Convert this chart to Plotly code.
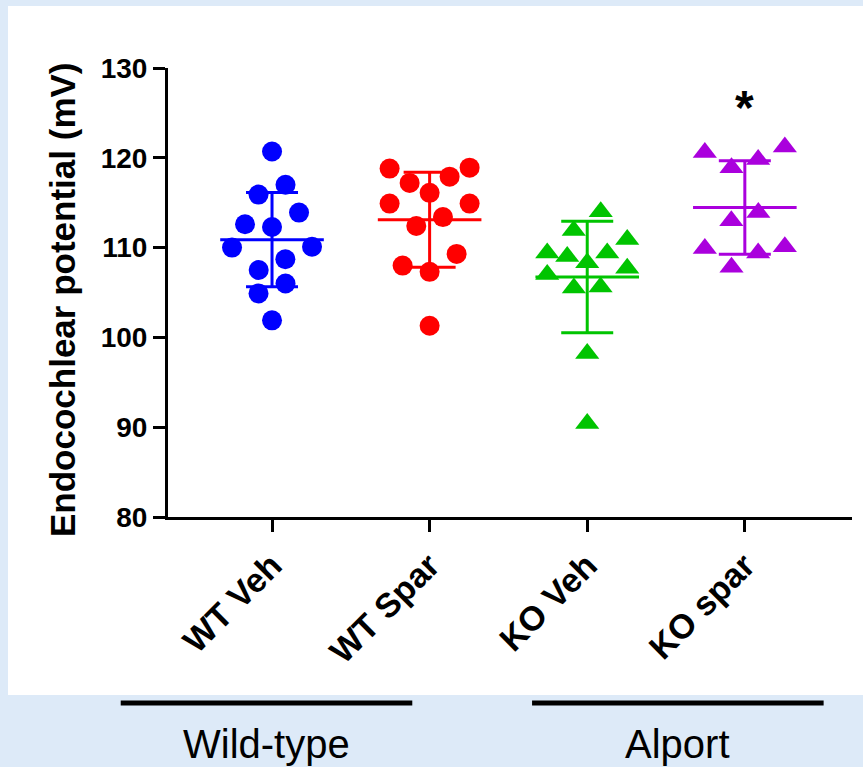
import numpy as np
import plotly.graph_objects as go

# ---------------- data ----------------
categories = ["WT Veh", "WT Spar", "KO Veh", "KO spar"]
wt_veh = [120.7, 117.0, 115.9, 113.9, 112.6, 112.3, 110.1, 110.0, 108.7, 107.5, 106.0, 104.9, 101.9]
wt_spar = [118.9, 118.8, 117.9, 117.2, 116.1, 114.9, 114.9, 113.4, 112.4, 109.3, 108.0, 107.3, 101.3]
ko_veh = [114.0, 111.9, 110.9, 109.4, 109.4, 109.0, 108.3, 107.7, 107.0, 105.6, 105.5, 98.2, 90.4]
ko_spar = [121.2, 120.6, 119.8, 118.9, 113.9, 113.0, 110.1, 109.9, 109.4, 107.8]
groups = [wt_veh, wt_spar, ko_veh, ko_spar]
y_ticks = [80, 90, 100, 110, 120, 130]
group_labels = ["Wild-type", "Alport"]
significance = ["", "", "", "*"]

# ---------------- style ----------------
colors = ["#0000ff", "#ff0000", "#00c400", "#aa00dd"]
symbols = ["circle", "circle", "triangle-up", "triangle-up"]
W, H = 863, 767
ML, MR, MT, MB = 168, 11, 68, 250
x_range = [-0.66, 3.68]
y_range = [80, 130]
plot_w = W - ML - MR
plot_h = H - MT - MB
px_per_x = plot_w / (x_range[1] - x_range[0])
px_per_y = plot_h / (y_range[1] - y_range[0])


def row_scatter(values, row_height=2.85, max_step_px=27.0, max_width_px=80.0):
    """GraphPad-like scatter: bin points into rows, spread each row symmetrically,
    lowest value in the centre, higher values toward the edges."""
    order = sorted(range(len(values)), key=lambda k: -values[k])
    rows, cur = [], []
    for k in order:
        if cur and values[cur[0]] - values[k] > row_height:
            rows.append(cur)
            cur = []
        cur.append(k)
    rows.append(cur)
    offsets = [0.0] * len(values)
    for row in rows:
        n = len(row)
        step = max_step_px if n < 2 else min(max_step_px, max_width_px / (n - 1))
        slots = [(j - (n - 1) / 2) * step for j in range(n)]
        slots.sort(key=lambda s: (abs(round(s, 3)), s))
        for k, s in zip(sorted(row, key=lambda k: values[k]), slots):
            offsets[k] = s / px_per_x
    return offsets


def xpaper(xd):
    return (xd - x_range[0]) / (x_range[1] - x_range[0])


def ypaper(py):
    return (H - MB - py) / plot_h


font_fam = "Arial, 'Liberation Sans', sans-serif"
fig = go.Figure()

for i, vals in enumerate(groups):
    offs = row_scatter(vals)
    xs = [i + o for o in offs]
    fig.add_trace(go.Scatter(
        x=xs, y=vals, mode="markers",
        marker=dict(symbol=symbols[i], color=colors[i],
                    size=20 if symbols[i] == "circle" else 21,
                    line=dict(width=0)),
        showlegend=False, hoverinfo="y",
    ))
    m = float(np.mean(vals))
    sd = float(np.std(vals, ddof=1))
    fig.add_trace(go.Scatter(
        x=[i], y=[m], mode="markers",
        marker=dict(symbol="line-ew", size=74, color=colors[i],
                    line=dict(color=colors[i], width=3)),
        error_y=dict(type="data", array=[sd], visible=True,
                     color=colors[i], thickness=3, width=26),
        showlegend=False, hoverinfo="y",
    ))
    if significance[i]:
        fig.add_annotation(x=i, y=m + sd, yshift=53, text="<b>" + significance[i] + "</b>",
                           showarrow=False, font=dict(family=font_fam, size=48, color="black"))

# white panel
fig.add_shape(type="rect", xref="paper", yref="paper",
              x0=(8 - ML) / plot_w, x1=(W - ML) / plot_w,
              y0=ypaper(695), y1=ypaper(6),
              fillcolor="white", line=dict(width=0), layer="below")

# group bars & labels
group_spans = [(-0.96, 0.89), (1.65, 3.50)]
for (a, b), lab in zip(group_spans, group_labels):
    fig.add_shape(type="line", xref="paper", yref="paper", x0=xpaper(a), x1=xpaper(b),
                  y0=ypaper(703), y1=ypaper(703),
                  line=dict(color="black", width=5))
    fig.add_annotation(xref="paper", yref="paper", x=xpaper((a + b) / 2), y=ypaper(744),
                       text=lab, showarrow=False, xanchor="center", yanchor="middle",
                       font=dict(family=font_fam, size=40, color="black"))

# y-axis title
fig.add_annotation(xref="paper", yref="paper", x=(62 - ML) / plot_w, y=ypaper(300),
                   text="Endocochlear potential (mV)", textangle=-90, showarrow=False,
                   xanchor="center", yanchor="middle",
                   font=dict(family=font_fam, size=35, color="black", weight="bold"))

fig.update_layout(
    width=W, height=H,
    margin=dict(l=ML, r=MR, t=MT, b=MB, pad=0),
    paper_bgcolor="#ddeaf8", plot_bgcolor="white",
    xaxis=dict(range=x_range, tickvals=list(range(len(categories))), ticktext=categories,
               tickangle=-45, showline=True, linewidth=3, linecolor="black",
               ticks="outside", ticklen=12, tickwidth=3, tickcolor="black",
               showgrid=False, zeroline=False,
               tickfont=dict(family=font_fam, size=34, color="black", weight="bold")),
    yaxis=dict(range=y_range, tickvals=y_ticks, showline=True, linewidth=3, linecolor="black",
               ticks="outside", ticklen=12, tickwidth=3, tickcolor="black",
               showgrid=False, zeroline=False,
               tickfont=dict(family=font_fam, size=28, color="black", weight="bold")),
)

fig.write_html("out.html")
